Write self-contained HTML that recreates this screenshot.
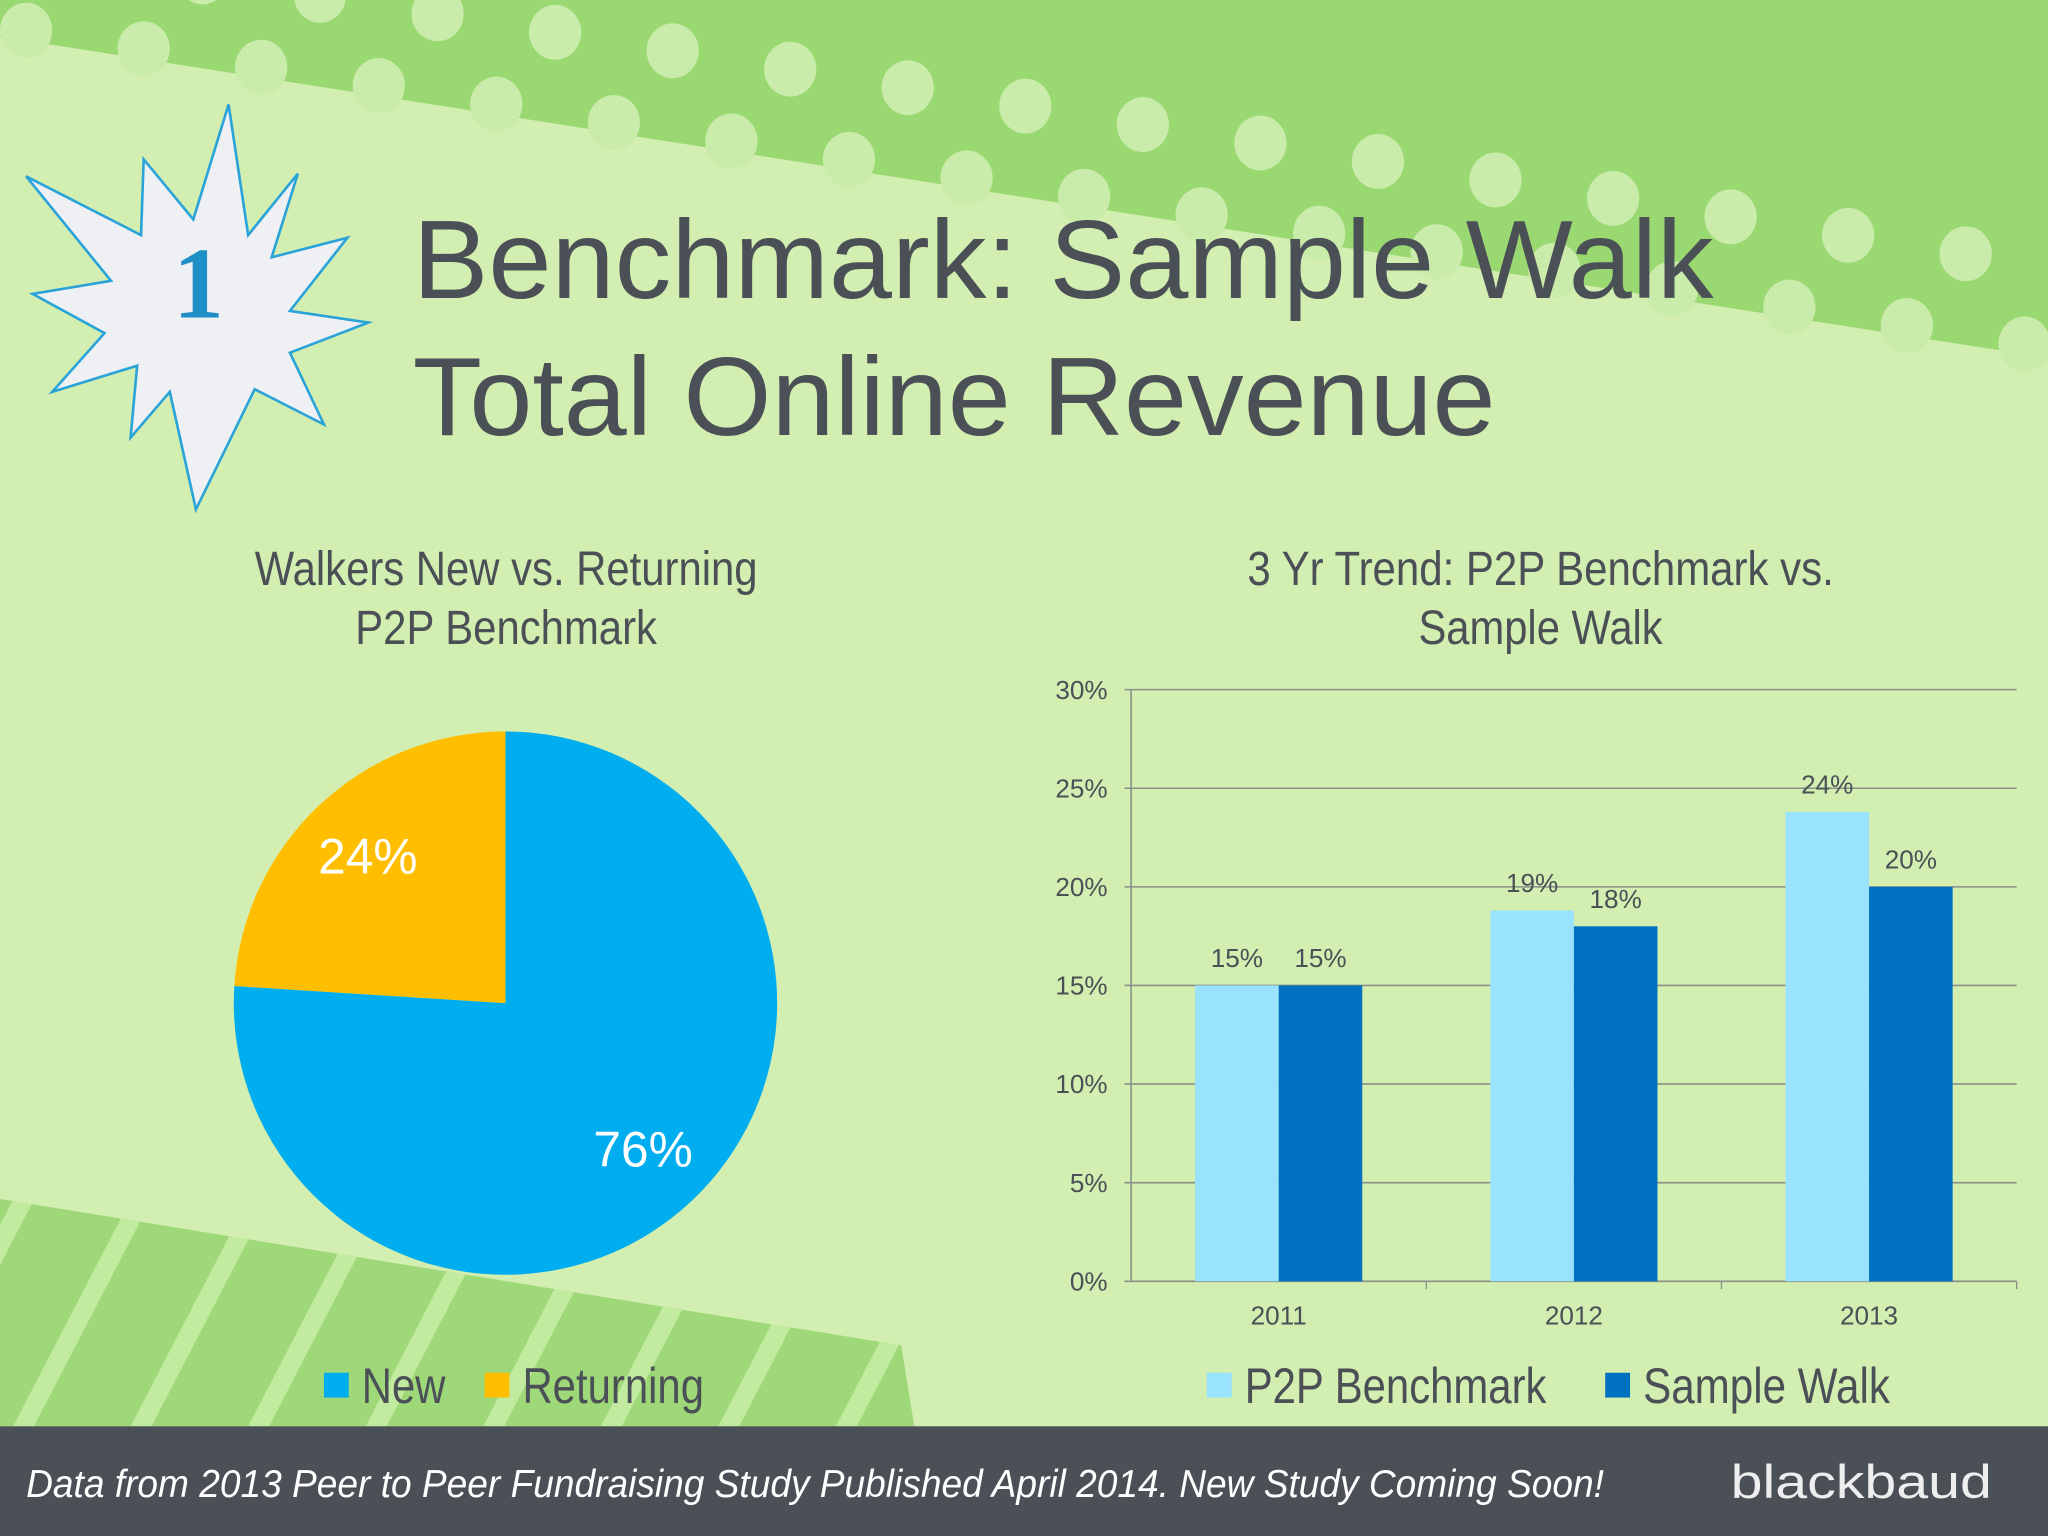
<!DOCTYPE html>
<html><head><meta charset="utf-8"><style>
html,body{margin:0;padding:0;background:#d2eeb0;}
svg{display:block}
text{font-family:"Liberation Sans",sans-serif}
</style></head><body>
<svg id="s" width="2048" height="1536" viewBox="0 0 1568 1176" xmlns="http://www.w3.org/2000/svg">
<defs><clipPath id="bandclip"><polygon points="0,918 690,1030 700,1092 0,1092"/></clipPath></defs>
<rect width="1568" height="1176" fill="#d2eeb0"/>
<polygon points="0,0 1568,0 1568,274 0,28" fill="#9ad872"/>
<g id="dots" fill="#c9ecaa"></g>
<g>
<polygon points="0,918 690,1030 700,1092 0,1092" fill="#9ed878"/>
<g id="stripes" clip-path="url(#bandclip)" fill="#c2eb9f"></g>
</g>
<rect y="1092" width="1568" height="84" fill="#4b5057"/>
<text x="20" y="1146" font-size="30" font-style="italic" fill="#fff" textLength="1208" lengthAdjust="spacingAndGlyphs">Data from 2013 Peer to Peer Fundraising Study Published April 2014. New Study Coming Soon!</text>
<text x="1325" y="1147" font-size="36" fill="#eee" textLength="200" lengthAdjust="spacingAndGlyphs">blackbaud</text>
<polygon points="175,80 190,180 228,133 208,197 266,182 222,238 282,247 222,270 248,325 195,298 150,390 130,300 100,335 105,280 40,300 80,255 25,225 85,215 20,135 108,180 110,122 148,168" fill="#eef0f4" stroke="#2aa3d8" stroke-width="2"/>
<text x="152" y="243" font-size="78" font-weight="bold" fill="#1e8fc6" text-anchor="middle" style="font-family:'Liberation Serif',serif">1</text>
<text x="316" y="228" font-size="85" fill="#4b5057" textLength="996" lengthAdjust="spacingAndGlyphs">Benchmark: Sample Walk</text>
<text x="316" y="333" font-size="85" fill="#4b5057" textLength="829" lengthAdjust="spacingAndGlyphs">Total Online Revenue</text>
<text x="195" y="448" font-size="37" fill="#4b5057" textLength="385" lengthAdjust="spacingAndGlyphs">Walkers New vs. Returning</text>
<text x="272" y="493" font-size="37" fill="#4b5057" textLength="231" lengthAdjust="spacingAndGlyphs">P2P Benchmark</text>
<g id="pie"></g>
<rect x="248" y="1051" width="19" height="19" fill="#00adef"/>
<text x="277" y="1074" font-size="38" fill="#4b5057" textLength="64" lengthAdjust="spacingAndGlyphs">New</text>
<rect x="371" y="1051" width="19" height="19" fill="#ffbf00"/>
<text x="400" y="1074" font-size="38" fill="#4b5057" textLength="139" lengthAdjust="spacingAndGlyphs">Returning</text>
<text x="955" y="448" font-size="37" fill="#4b5057" textLength="449" lengthAdjust="spacingAndGlyphs">3 Yr Trend: P2P Benchmark vs.</text>
<text x="1086" y="493" font-size="37" fill="#4b5057" textLength="187" lengthAdjust="spacingAndGlyphs">Sample Walk</text>
<g id="bars"></g>
<rect x="924" y="1051" width="19" height="19" fill="#99e3ff"/>
<text x="953" y="1074" font-size="38" fill="#4b5057" textLength="231" lengthAdjust="spacingAndGlyphs">P2P Benchmark</text>
<rect x="1229" y="1051" width="19" height="19" fill="#0070c0"/>
<text x="1258" y="1074" font-size="38" fill="#4b5057" textLength="189" lengthAdjust="spacingAndGlyphs">Sample Walk</text>
</svg>
<script>
const pieLabels=["New","Returning"];
const pieValues=[76,24];
const years=["2011","2012","2013"];
const p2pValues=[15,18.8,23.8];
const sampleValues=[15,18,20];
const p2pLabels=["15%","19%","24%"];
const sampleLabels=["15%","18%","20%"];
const yTicks=[0,5,10,15,20,25,30];
const NS="http://www.w3.org/2000/svg";
function mk(tag,attrs,parent){const e=document.createElementNS(NS,tag);for(const k in attrs)e.setAttribute(k,attrs[k]);parent.appendChild(e);return e;}
// dots
const dots=document.getElementById('dots');
for(let r=-1;r<8;r++){for(let c=0;c<19;c++){const x=20+c*90+(r%2?45:0);const y=r*62+x*0.157+20;const edge=28+x*0.157;if(y-4<edge){const d=mk('ellipse',{cx:x,cy:y,rx:20,ry:21},dots);}}}
// stripes
const st=document.getElementById('stripes');
for(let i=0;i<9;i++){const b=-80+i*90;const p=mk('polygon',{points:`${b},1092 ${b+16},1092 ${b+126},880 ${b+110},880`},st);}
// pie
const pie=document.getElementById('pie');
const cx=387,cy=768,R=208,cols=["#00adef","#ffbf00"];
const tot=pieValues.reduce((a,b)=>a+b,0);let a0=-Math.PI/2;
pieValues.forEach((v,i)=>{const a1=a0+v/tot*2*Math.PI;const large=(a1-a0)>Math.PI?1:0;
const p=mk('path',{d:`M${cx},${cy} L${cx+R*Math.cos(a0)},${cy+R*Math.sin(a0)} A${R},${R} 0 ${large} 1 ${cx+R*Math.cos(a1)},${cy+R*Math.sin(a1)} Z`,fill:cols[i]},pie);


const am=(a0+a1)/2,lr=R*0.74;
const t=mk('text',{x:cx+lr*Math.cos(am),y:cy+lr*Math.sin(am)+13,'font-size':38,fill:'#fff','text-anchor':'middle'},pie);
t.textContent=v+'%';


a0=a1;});
// bars
const g=document.getElementById('bars');
const x0=866,x1=1544,yTop=528,yBot=981,ymax=30;
const Y=v=>yBot-(v/ymax)*(yBot-yTop);
const gw=(x1-x0)/years.length,bw=64;
yTicks.forEach(t=>{const l=mk('line',{x1:x0-5,x2:x1,y1:Y(t),y2:Y(t),stroke:'#8a8f88','stroke-width':1.2},g);


const tx=mk('text',{x:x0-18,y:Y(t)+7,'font-size':20,fill:'#4b5057','text-anchor':'end'},g);tx.textContent=t+'%';

});
const ax=mk('line',{x1:x0,x2:x0,y1:yTop,y2:yBot,stroke:'#8a8f88','stroke-width':1.2},g);


years.forEach((yr,i)=>{const c=x0+gw*(i+0.5);
const tk=mk('line',{x1:x0+gw*(i+1),x2:x0+gw*(i+1),y1:yBot,y2:yBot+6,stroke:'#8a8f88'},g);


const b1=mk('rect',{x:c-bw,y:Y(p2pValues[i]),width:bw,height:yBot-Y(p2pValues[i]),fill:'#99e3ff'},g);


const b2=mk('rect',{x:c,y:Y(sampleValues[i]),width:bw,height:yBot-Y(sampleValues[i]),fill:'#0070c0'},g);


const l1=mk('text',{x:c-bw/2,y:Y(p2pValues[i])-14,'font-size':20,fill:'#4b5057','text-anchor':'middle'},g);l1.textContent=p2pLabels[i];


const l2=mk('text',{x:c+bw/2,y:Y(sampleValues[i])-14,'font-size':20,fill:'#4b5057','text-anchor':'middle'},g);l2.textContent=sampleLabels[i];


const xl=mk('text',{x:c,y:yBot+33,'font-size':20,fill:'#4b5057','text-anchor':'middle'},g);xl.textContent=yr;

});
</script>
</body></html>
